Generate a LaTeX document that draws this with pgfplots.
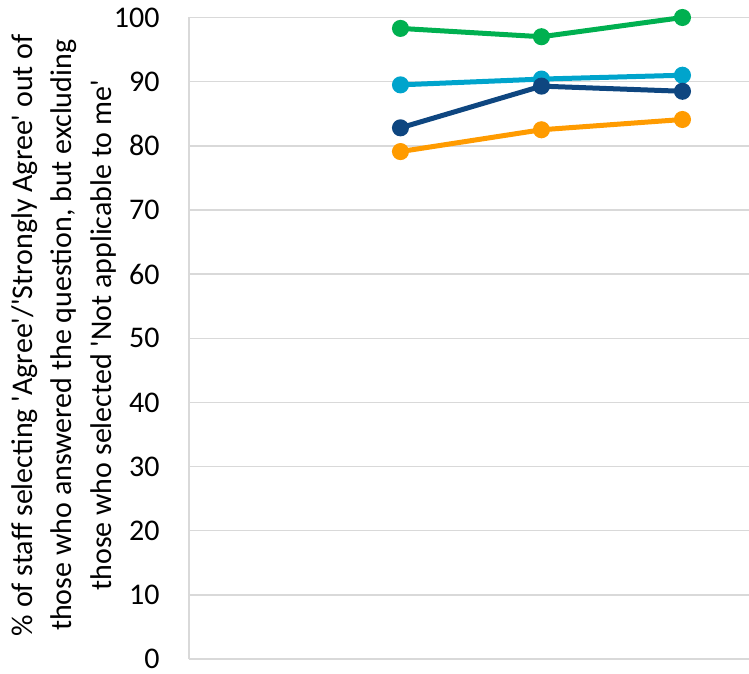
\documentclass[border=0pt]{standalone}
\usepackage{pgfplots}
\pgfplotsset{compat=1.18}
\usepackage{fontspec}
\setmainfont{Carlito}
\definecolor{cgreen}{RGB}{0,176,80}
\definecolor{clblue}{RGB}{0,164,204}
\definecolor{cdblue}{RGB}{14,70,128}
\definecolor{corange}{RGB}{255,155,0}
\definecolor{cgrid}{RGB}{217,217,217}
\newcommand{\q}{\textquotesingle}
\begin{document}
\begin{tikzpicture}
\begin{axis}[
  scale only axis,
  width=560pt, height=641.5pt,
  xmin=-0.5, xmax=3.472,
  ymin=0, ymax=100,
  ytick={0,10,...,100},
  xtick=\empty,
  ymajorgrids,
  grid style={cgrid, line width=1.5pt},
  axis x line*=bottom,
  axis y line*=left,
  axis line style={cgrid, line width=1.5pt},
  major tick length=0pt,
  tick style={draw=none},
  /pgf/number format/assume math mode=true,
  yticklabel style={font=\fontsize{30}{36}\selectfont, xshift=-26pt},
  ylabel={\% of staff selecting \q Agree\q/\q Strongly Agree\q{} out of\\those who answered the question, but excluding\\those who selected \q Not applicable to me\q},
  every axis y label/.style={at={(rel axis cs:0,0.5)}, xshift=-125pt, yshift=3pt, rotate=90, anchor=center, font=\fontsize{30}{39.5}\selectfont, align=center},
  every axis plot/.append style={line width=5pt, mark=*, mark size=6pt},
  clip=false,
]
\addplot[clblue, mark options={fill=clblue}] coordinates {(1,89.5) (2,90.4) (3,91.0)};
\addplot[cdblue, mark options={fill=cdblue}] coordinates {(1,82.8) (2,89.3) (3,88.5)};
\addplot[corange, mark options={fill=corange}] coordinates {(1,79.1) (2,82.5) (3,84.1)};
\addplot[cgreen, mark options={fill=cgreen}] coordinates {(1,98.3) (2,97.0) (3,100)};
\coordinate (sw) at (rel axis cs:0,0);
\end{axis}
\pgfresetboundingbox
\path ([shift={(-189pt,-14pt)}]sw) rectangle ([shift={(560pt,659pt)}]sw);
\end{tikzpicture}
\end{document}
